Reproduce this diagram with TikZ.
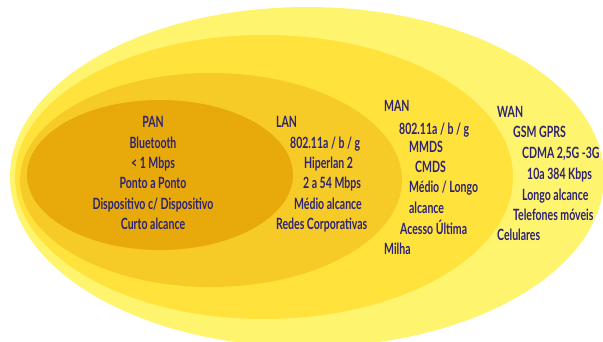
\documentclass[tikz,border=0pt]{standalone}
\usepackage{fontspec}
\setmainfont{Lato}
\definecolor{wancol}{HTML}{FFF46E}
\definecolor{mancol}{HTML}{FFE23C}
\definecolor{lancol}{HTML}{F7CB27}
\definecolor{pancol}{HTML}{E8AA0B}
\definecolor{labelblue}{HTML}{2D2373}
\begin{document}
\begin{tikzpicture}[x=1pt,y=-1pt,
  lbl/.style={text=labelblue, font=\fontsize{15.5}{18}\selectfont\bfseries, inner sep=0pt,
    anchor=mid west, transform shape, xscale=0.68},
  clbl/.style={lbl, anchor=mid}]
\useasboundingbox (0,0) rectangle (603,341);
% nested coverage areas, trimmed to the frame
\begin{scope}
\clip (0,0) rectangle (603,341);
\fill[wancol] (307,177) ellipse [x radius=297, y radius=170];
\fill[mancol] (264,177) ellipse [x radius=249, y radius=142];
\fill[lancol] (211,180) ellipse [x radius=191, y radius=107];
\fill[pancol] (160,175) ellipse [x radius=133, y radius=75];
\end{scope}
% PAN
\node[clbl] (p1) at (153,125) {PAN};
\node[clbl] (p2) at (153,146) {Bluetooth};
\node[clbl] (p3) at (153,166) {< 1 Mbps};
\node[clbl] (p4) at (153,186) {Ponto a Ponto};
\node[clbl] (p5) at (153,207) {Dispositivo c/ Dispositivo};
\node[clbl] (p6) at (153,227) {Curto alcance};
% LAN
\node[lbl] (l1) at (276,125) {LAN};
\node[lbl] (l2) at (290,146) {802.11a / b / g};
\node[lbl] (l3) at (304,166) {Hiperlan 2};
\node[lbl] (l4) at (303,186) {2 a 54 Mbps};
\node[lbl] (l5) at (294,207) {Médio alcance};
\node[lbl] (l6) at (276,227) {Redes Corporativas};
% MAN
\node[lbl] (m1) at (384,109) {MAN};
\node[lbl] (m2) at (399,132) {802.11a / b / g};
\node[lbl] (m3) at (409,150) {MMDS};
\node[lbl] (m4) at (415,170) {CMDS};
\node[lbl] (m5) at (409,190) {Médio / Longo};
\node[lbl] (m6) at (409,211) {alcance};
\node[lbl] (m7) at (400,232) {Acesso Última};
\node[lbl] (m8) at (384,252) {Milha};
% WAN
\node[lbl] (w1) at (497,115) {WAN};
\node[lbl] (w2) at (513,135) {GSM GPRS};
\node[lbl] (w3) at (522,156) {CDMA 2,5G -3G};
\node[lbl] (w4) at (527,177) {10a 384 Kbps};
\node[lbl] (w5) at (522,198) {Longo alcance};
\node[lbl] (w6) at (513,218) {Telefones móveis};
\node[lbl] (w7) at (497,238) {Celulares};
\end{tikzpicture}
\end{document}
